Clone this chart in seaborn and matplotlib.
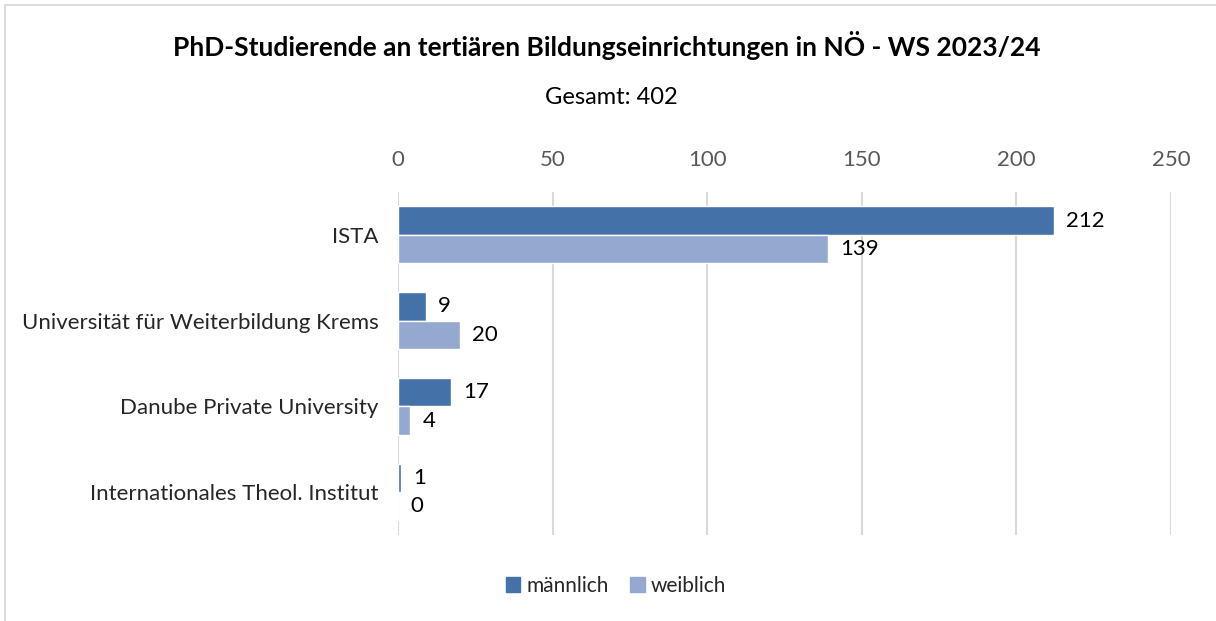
import matplotlib
matplotlib.use("Agg")
import matplotlib.pyplot as plt
import matplotlib.patches as mpatches
import seaborn as sns
import pandas as pd

categories = ["ISTA", "Universität für Weiterbildung Krems", "Danube Private University", "Internationales Theol. Institut"]
maennlich = [212, 9, 17, 1]
weiblich = [139, 20, 4, 0]
series_names = ["männlich", "weiblich"]
x_ticks = [0, 50, 100, 150, 200, 250]
title = "PhD-Studierende an tertiären Bildungseinrichtungen in NÖ - WS 2023/24"
subtitle = "Gesamt: 402"

colors = ["#4472A8", "#95A9D0"]

df = pd.DataFrame({
    "Einrichtung": categories * 2,
    "Geschlecht": [series_names[0]] * len(categories) + [series_names[1]] * len(categories),
    "Anzahl": maennlich + weiblich,
})

sns.set_theme(style="white")
plt.rcParams["font.family"] = ["Lato", "DejaVu Sans"]

W, H = 1216, 621
fig = plt.figure(figsize=(W / 100, H / 100), dpi=100)
ax = fig.add_axes([398 / W, 1 - 535 / H, (1171 - 398) / W, (535 - 192) / H])

sns.barplot(data=df, y="Einrichtung", x="Anzahl", hue="Geschlecht", order=categories,
            hue_order=series_names, palette=colors, orient="h", width=2 / 3,
            saturation=1, ax=ax, legend=False)

ax.set_xlim(0, 250)
ax.set_xticks(x_ticks)
ax.xaxis.tick_top()
ax.tick_params(axis="x", length=0, pad=16, labelsize=16, labelcolor="#595959")
ax.tick_params(axis="y", length=0, pad=14, labelsize=16, labelcolor="#262626")
ax.set_xlabel("")
ax.set_ylabel("")
ax.grid(axis="x", color="#D9D9D9", linewidth=1.5)
ax.set_axisbelow(True)
for s in ax.spines.values():
    s.set_visible(False)

for cont in ax.containers:
    ax.bar_label(cont, padding=9, fontsize=16, color="#000000")

fig.text(607 / W, 1 - 45 / H, title, ha="center", va="center", fontsize=19, fontweight="bold", color="#000000")
fig.text(611 / W, 1 - 97 / H, subtitle, ha="center", va="center", fontsize=17, color="#000000")

handles = [mpatches.Patch(color=c, label=n) for c, n in zip(colors, series_names)]
fig.legend(handles=handles, loc="center", bbox_to_anchor=(616 / W, 1 - 586 / H), ncol=2,
           frameon=False, fontsize=15, handlelength=0.7, handleheight=0.7,
           handletextpad=0.3, columnspacing=1.0)

border = mpatches.Rectangle((5 / W, -0.05), 1.1, 1 - 5 / H + 0.05, transform=fig.transFigure,
                            fill=False, edgecolor="#D9D9D9", linewidth=1.3)
fig.patches.append(border)

fig.savefig("out.png", dpi=100)
